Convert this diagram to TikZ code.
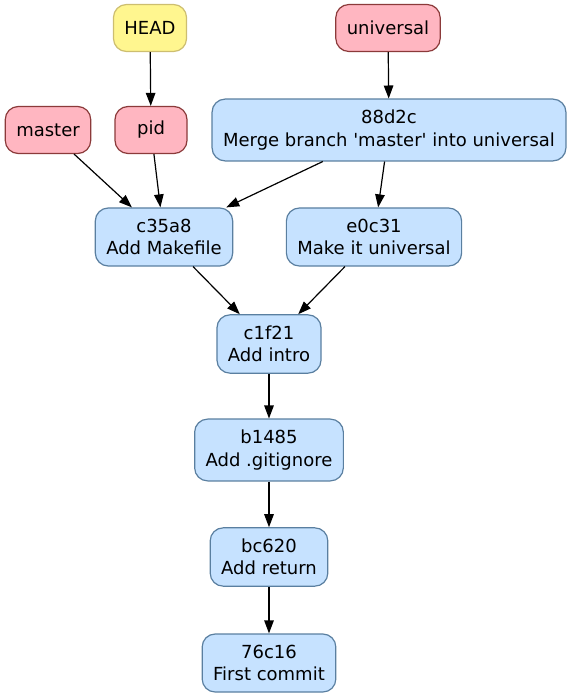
\documentclass[tikz,border=0pt]{standalone}
\usepackage{fontspec}
\setmainfont{DejaVu Sans}[Ligatures=TeXOff]
\usetikzlibrary{arrows.meta}

\definecolor{refFill}{HTML}{FFB6C1}
\definecolor{refLine}{HTML}{8B3A3A}
\definecolor{headFill}{HTML}{FFF68F}
\definecolor{headLine}{HTML}{CDBE70}
\definecolor{commitFill}{HTML}{C6E2FF}
\definecolor{commitLine}{HTML}{5A7FA0}

\tikzset{
  gvnode/.style={rounded corners=13pt, line width=1.2pt, inner xsep=11pt, inner ysep=11pt,
    minimum width=72pt, minimum height=47pt, align=center,
    font=\fontsize{18}{22.4}\selectfont},
  refnode/.style={gvnode, draw=refLine, fill=refFill},
  headnode/.style={gvnode, draw=headLine, fill=headFill},
  commitnode/.style={gvnode, draw=commitLine, fill=commitFill},
  gvedge/.style={-{Triangle[length=13pt,width=9.5pt]}, line width=1.2pt},
}

\begin{document}
\begin{tikzpicture}[x=1pt, y=-1pt]

  \useasboundingbox (0,0) rectangle (573,699);

  %% refs
  \node[headnode] (head) at (150, 28) {HEAD};
  \node[refnode] (universal) at (388, 28) {universal};
  \node[refnode] (master) at (48, 130) {master};
  \node[refnode] (pid) at (151, 130) {pid};

  %% commits
  \node[commitnode] (c88d2c) at (389, 130) {88d2c\\Merge branch 'master' into universal};
  \node[commitnode] (c35a8) at (164, 237) {c35a8\\Add Makefile};
  \node[commitnode] (e0c31) at (374, 237) {e0c31\\Make it universal};
  \node[commitnode] (c1f21) at (269, 344) {c1f21\\Add intro};
  \node[commitnode] (b1485) at (269, 450) {b1485\\Add .gitignore};
  \node[commitnode] (bc620) at (269, 557) {bc620\\Add return};
  \node[commitnode] (c76c16) at (269, 663) {76c16\\First commit};

  \draw[gvedge] (head) -- (pid); %% HEAD->pid
  \draw[gvedge] (universal) -- (c88d2c); %% universal->88d2c
  \draw[gvedge] (master) -- (c35a8); %% master->c35a8
  \draw[gvedge] (pid) -- (c35a8); %% pid->c35a8
  \draw[gvedge] (c88d2c) -- (c35a8);
  \draw[gvedge] (c88d2c) -- (e0c31);
  \draw[gvedge] (c35a8) -- (c1f21);
  \draw[gvedge] (e0c31) -- (c1f21);
  \draw[gvedge] (c1f21) -- (b1485);
  \draw[gvedge] (b1485) -- (bc620);
  \draw[gvedge] (bc620) -- (c76c16);
\end{tikzpicture}
\end{document}
